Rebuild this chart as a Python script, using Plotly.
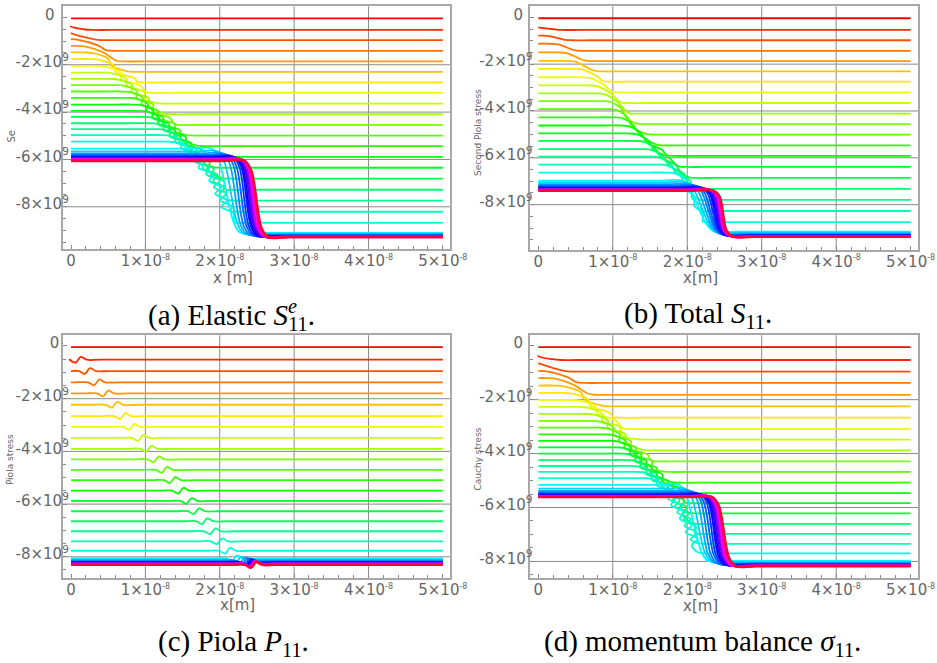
import colorsys
import numpy as np
import plotly.graph_objects as go

W, H = 937, 663
XU = 1e-8   # x values below are in units of 1e-8 m
YU = 1e9    # stress values below are in units of 1e9 Pa
N_CURVES = 39
N_RAMP = 20          # curves 1..19 cross the transformation band, 20.. form the final cluster
X_END = 5.0

# ---------------- (a) elastic S^e_11 ----------------
a_left = [-0.04, -0.36, -0.64, -0.92, -1.20, -1.48, -1.76, -2.05, -2.33, -2.60,
          -2.86, -3.13, -3.40, -3.68, -3.95, -4.20, -4.47, -4.72, -4.97, -5.25,
          -5.54, -5.66, -5.74, -5.80, -5.84, -5.87, -5.90, -5.92, -5.94, -5.96,
          -5.97, -5.98, -5.99, -6.00, -6.01, -6.02, -6.03, -6.04, -6.06]
a_right = [-0.04, -0.53, -0.96, -1.41, -1.86, -2.30, -2.75, -3.19, -3.64, -4.09,
           -4.54, -4.99, -5.44, -5.89, -6.35, -6.81, -7.28, -7.74, -8.21, -8.68,
           -9.10, -9.14, -9.17, -9.19, -9.21, -9.22, -9.23, -9.24, -9.24, -9.25,
           -9.25, -9.26, -9.26, -9.26, -9.27, -9.27, -9.27, -9.28, -9.28]
# centre line of the transformation band (x, stress)
a_band_x = [0.00, 0.37, 0.81, 1.20, 1.64, 1.91, 2.02, 2.10]
a_band_y = [-0.33, -1.41, -2.82, -4.23, -5.63, -6.76, -8.00, -8.70]
# drop interval of the late curves (20..38)
a_drop_start = [1.92, 2.00, 2.07, 2.12, 2.16, 2.20, 2.23, 2.25, 2.27, 2.29,
                2.30, 2.31, 2.32, 2.33, 2.34, 2.345, 2.35, 2.355, 2.36]
a_drop_end = [2.25, 2.30, 2.34, 2.38, 2.42, 2.45, 2.48, 2.50, 2.52, 2.54,
              2.55, 2.56, 2.57, 2.58, 2.59, 2.60, 2.61, 2.615, 2.62]

# ---------------- (b) total S_11 ----------------
b_left = [-0.04, -0.43, -0.78, -1.13, -1.50, -1.86, -2.20, -2.56, -2.91, -3.25,
          -3.58, -3.92, -4.27, -4.62, -4.96, -5.28, -5.63, -5.95, -6.29, -6.63,
          -6.97, -7.05, -7.12, -7.18, -7.22, -7.25, -7.28, -7.30, -7.32, -7.33,
          -7.34, -7.35, -7.36, -7.37, -7.37, -7.38, -7.38, -7.39, -7.40]
b_right = [-0.04, -0.54, -0.98, -1.43, -1.87, -2.31, -2.75, -3.21, -3.66, -4.11,
           -4.56, -5.01, -5.47, -5.92, -6.39, -6.86, -7.33, -7.80, -8.27, -8.75,
           -9.15, -9.20, -9.24, -9.27, -9.29, -9.30, -9.31, -9.32, -9.33, -9.33,
           -9.34, -9.34, -9.35, -9.35, -9.36, -9.36, -9.36, -9.37, -9.37]
b_band_x = [0.13, 0.25, 0.37, 0.50, 0.64, 0.99, 1.25, 1.60, 2.00, 2.15]
b_band_y = [-0.48, -0.88, -1.28, -1.68, -2.14, -3.42, -4.56, -5.70, -6.98, -8.50]
b_drop_start = [1.95, 2.02, 2.08, 2.13, 2.17, 2.21, 2.24, 2.26, 2.28, 2.30,
                2.31, 2.32, 2.33, 2.34, 2.35, 2.355, 2.36, 2.365, 2.37]
b_drop_end = [2.33, 2.37, 2.40, 2.43, 2.45, 2.47, 2.49, 2.51, 2.52, 2.53,
              2.54, 2.55, 2.56, 2.56, 2.57, 2.57, 2.58, 2.58, 2.59]

# ---------------- (c) Piola P_11 ----------------
c_level = [-0.04, -0.52, -0.95, -1.38, -1.80, -2.23, -2.66, -3.07, -3.49, -3.90,
           -4.30, -4.70, -5.09, -5.49, -5.88, -6.27, -6.65, -7.03, -7.41, -7.77,
           -8.06, -8.10, -8.13, -8.16, -8.18, -8.20, -8.21, -8.22, -8.23, -8.24,
           -8.25, -8.26, -8.26, -8.27, -8.27, -8.28, -8.28, -8.29, -8.30]
c_front = [0, 0.10, 0.225, 0.35, 0.47, 0.59, 0.70, 0.82, 0.94, 1.05,
           1.15, 1.26, 1.37, 1.48, 1.59, 1.69, 1.80, 1.91, 2.00, 2.11,
           2.20, 2.26, 2.31, 2.34, 2.37, 2.39, 2.40, 2.41, 2.42, 2.43,
           2.435, 2.44, 2.445, 2.45, 2.45, 2.455, 2.46, 2.46, 2.46]
c_kink = 0.11   # height of the kink at the front

# ---------------- (d) Cauchy sigma_11 ----------------
d_left = [-0.05, -0.36, -0.64, -0.93, -1.20, -1.48, -1.75, -2.01, -2.27, -2.53,
          -2.79, -3.04, -3.29, -3.53, -3.77, -4.00, -4.24, -4.46, -4.68, -4.91,
          -5.16, -5.30, -5.38, -5.43, -5.47, -5.50, -5.52, -5.54, -5.55, -5.56,
          -5.57, -5.58, -5.58, -5.59, -5.59, -5.60, -5.60, -5.61, -5.61]
d_right = [-0.05, -0.53, -0.96, -1.38, -1.82, -2.25, -2.67, -3.09, -3.48, -3.88,
           -4.29, -4.68, -5.08, -5.47, -5.84, -6.22, -6.61, -6.98, -7.35, -7.70,
           -7.98, -8.02, -8.05, -8.08, -8.10, -8.11, -8.12, -8.13, -8.14, -8.14,
           -8.15, -8.15, -8.16, -8.16, -8.16, -8.17, -8.17, -8.17, -8.17]
d_band_x = [0.02, 0.42, 0.81, 1.17, 1.52, 1.78, 1.95, 2.05]
d_band_y = [-0.36, -1.41, -2.39, -3.50, -4.62, -5.36, -6.40, -7.50]
d_drop_start = a_drop_start
d_drop_end = a_drop_end

# ripple of the curves inside the band: (period in stress, amplitude in x, half band width)
ripple = {"a": (0.55, 0.06, 0.10), "b": (0.70, 0.035, 0.06), "d": (0.50, 0.06, 0.10)}

# tick labels
x_tickvals = [0, 1, 2, 3, 4, 5]
x_ticktext = ["0"] + [f"{v}×10<sup><span style='font-size:8px'>-8</span></sup>" for v in x_tickvals[1:]]
y_tickvals = [0, -2, -4, -6, -8]
NB = "\u00a0"


def y_ticktext(pad):
    return ["0" + NB * pad] + [f"{v}×10<sup>9</sup>" for v in y_tickvals[1:]]


def curve_color(k):
    r, g, b = colorsys.hsv_to_rgb(0.96 * k / (N_CURVES - 1), 1.0, 1.0)
    return f"rgb({int(r*255)},{int(g*255)},{int(b*255)})"


def band_profile(left, right, bx, by, panel):
    """Profile that leaves `left` at the band, ripples down along it and settles at `right`."""
    if abs(left - right) < 1e-9:
        return [0, X_END], [left, left]
    period, amp, half = ripple[panel]
    neg_by = [-v for v in by]

    def xc(y):
        return float(np.interp(-y, neg_by, bx))

    span = left - right
    x0 = xc(left) - half
    pts = [(0.0, left)]
    if x0 - 0.35 > 0.02:
        pts.append((x0 - 0.35, left))
    if x0 - 0.12 > 0.02:
        pts.append((x0 - 0.12, left))
    pts.append((max(x0, 0.0), left - 0.03))
    j = 1
    while left - j * period / 2 > right + period / 4:
        y = left - j * period / 2
        frac = (left - y) / span
        x = xc(y) - half + 2 * half * frac + (amp if j % 2 else -amp)
        pts.append((max(x, 0.0), y))
        j += 1
    xr = xc(right) + half
    pts += [(xr, right + 0.03), (xr + 0.12, right), (xr + 0.35, right), (X_END, right)]
    return [p[0] for p in pts], [p[1] for p in pts]


def drop_profile(left, right, xs, xe):
    """Late curves: plateau, steep drop with rounded shoulders, plateau."""
    d = left - right
    xs_ = [0.0, xs - 0.3, xs - 0.03, xs + 0.06, xe - 0.06, xe + 0.03, xe + 0.3, X_END]
    ys_ = [left, left, left, left - 0.12 * d, right + 0.12 * d, right, right, right]
    return xs_, ys_


def kink_profile(level, front):
    if front <= 0:
        return [0, X_END], [level, level]
    xs = [0.0, max(front - 0.3, 0.0), front - 0.12, front - 0.04, front + 0.03,
          front + 0.11, front + 0.3, X_END]
    ys = [level, level, level, level - c_kink, level + c_kink, level, level, level]
    if xs[1] <= 0.0:
        xs, ys = xs[1:], ys[1:]
    return xs, ys


def profile(panel, k):
    if panel == "c":
        return kink_profile(c_level[k], c_front[k])
    left, right, bx, by, ds, de = {
        "a": (a_left, a_right, a_band_x, a_band_y, a_drop_start, a_drop_end),
        "b": (b_left, b_right, b_band_x, b_band_y, b_drop_start, b_drop_end),
        "d": (d_left, d_right, d_band_x, d_band_y, d_drop_start, d_drop_end),
    }[panel]
    if k < N_RAMP:
        return band_profile(left[k], right[k], bx, by, panel)
    return drop_profile(left[k], right[k], ds[k - N_RAMP], de[k - N_RAMP])


fig = go.Figure()
for i, name in enumerate(["a", "b", "c", "d"], start=1):
    xa = "x" if i == 1 else f"x{i}"
    ya = "y" if i == 1 else f"y{i}"
    for k in range(N_CURVES):
        xs, ys = profile(name, k)
        last = k == N_CURVES - 1
        fig.add_trace(go.Scatter(
            x=[v * XU for v in xs], y=[v * YU for v in ys],
            mode="lines", xaxis=xa, yaxis=ya, showlegend=False, hoverinfo="skip",
            line=dict(color=curve_color(k), width=2.7 if last else 1.8,
                      shape="spline", smoothing=1.0),
        ))

# panel geometry in pixels: (left, right, top, bottom) and value ranges
geo = {
    1: dict(px=(64, 458.3, 5.3, 248.3), xr=(-0.11, 5.096), yr=(-9.78, 0.47), pad=3, so=-11),
    2: dict(px=(540.3, 935, 5.3, 249), xr=(-0.1055, 5.10), yr=(-9.92, 0.47), pad=2, so=-7),
    3: dict(px=(64, 458.3, 334.7, 578.3), xr=(-0.11, 5.096), yr=(-8.82, 0.41), pad=2, so=-11),
    4: dict(px=(540.3, 935, 334.7, 578.3), xr=(-0.1055, 5.10), yr=(-8.63, 0.39), pad=2, so=-7),
}

AX_GRAY = "#a8a8a8"
GRID = "#8a8a8a"
TXT = "#666666"
shapes = []
layout_axes = {}
for i, g in geo.items():
    l, r, t, b = g["px"]
    sx = "" if i == 1 else str(i)
    layout_axes[f"xaxis{sx}"] = dict(
        domain=[l / W, r / W], anchor=f"y{sx}",
        range=[g["xr"][0] * XU, g["xr"][1] * XU],
        showgrid=False, zeroline=False, showline=True, mirror=True,
        linecolor=AX_GRAY, linewidth=2,
        ticks="inside", ticklen=4, tickcolor="#888", tickwidth=1,
        tickvals=[v * XU for v in x_tickvals], ticktext=x_ticktext,
        tickfont=dict(family="DejaVu Sans", size=15, color=TXT),
        ticklabelstandoff=-3,
        minor=dict(ticks="inside", dtick=0.2 * XU, ticklen=3, tickcolor="#888", tickwidth=1,
                   showgrid=False),
    )
    layout_axes[f"yaxis{sx}"] = dict(
        domain=[1 - b / H, 1 - t / H], anchor=f"x{sx}",
        range=[g["yr"][0] * YU, g["yr"][1] * YU],
        showgrid=False, zeroline=False, showline=True, mirror=True,
        linecolor=AX_GRAY, linewidth=2,
        ticks="inside", ticklen=4, tickcolor="#888", tickwidth=1,
        tickvals=[v * YU for v in y_tickvals], ticktext=y_ticktext(g["pad"]),
        tickfont=dict(family="DejaVu Sans", size=15, color=TXT),
        ticklabelstandoff=g["so"], ticklabelshift=-3,
        minor=dict(ticks="inside", dtick=0.5 * YU, ticklen=3, tickcolor="#888", tickwidth=1,
                   showgrid=False),
    )
    xr_ = "x" if i == 1 else f"x{i}"
    yr_ = "y" if i == 1 else f"y{i}"
    for v in x_tickvals[1:-1]:
        shapes.append(dict(type="line", xref=xr_, yref=f"{yr_} domain", x0=v * XU, x1=v * XU,
                           y0=0, y1=1, line=dict(color=GRID, width=1), layer="below"))
    for v in y_tickvals[1:]:
        shapes.append(dict(type="line", xref=f"{xr_} domain", yref=yr_, x0=0, x1=1,
                           y0=v * YU, y1=v * YU, line=dict(color=GRID, width=1), layer="below"))


def ann(text, x, y, size, color=TXT, family="DejaVu Sans", angle=0, xanchor="center"):
    return dict(text=text, x=x / W, y=1 - y / H, xref="paper", yref="paper",
                showarrow=False, xanchor=xanchor, yanchor="middle", textangle=angle,
                font=dict(family=family, size=size, color=color))


SERIF = "Liberation Serif"
# superscript e stacked over the subscript 11
S_E_11 = ("<i>S</i><sup><span style='letter-spacing:-9px'><i>e</i></span></sup>"
          "<sub>11</sub>")
annotations = [
    ann("x [m]", 237, 277, 15),
    ann("x[m]", 713, 277, 15),
    ann("x[m]", 242, 605, 15),
    ann("x[m]", 713, 606, 15),
    ann("Se", 12, 135, 10, angle=-90),
    ann("Second Piola stress", 487, 132, 9, angle=-90),
    ann("Piola stress", 11, 459, 9, angle=-90),
    ann("Cauchy stress", 487, 459, 9, angle=-90),
    ann(f"(a) Elastic {S_E_11}.", 149, 314, 29, "#000", SERIF, xanchor="left"),
    ann("(b) Total <i>S</i><sub>11</sub>.", 633, 314, 29, "#000", SERIF, xanchor="left"),
    ann("(c) Piola <i>P</i><sub>11</sub>.", 159, 643, 29, "#000", SERIF, xanchor="left"),
    ann("(d) momentum balance <i>σ</i><sub>11</sub>.", 552, 643, 29, "#000", SERIF, xanchor="left"),
]

fig.update_layout(
    width=W, height=H, margin=dict(l=0, r=0, t=0, b=0),
    paper_bgcolor="white", plot_bgcolor="white",
    shapes=shapes, annotations=annotations, showlegend=False,
    **layout_axes,
)

fig.write_html("out.html")
